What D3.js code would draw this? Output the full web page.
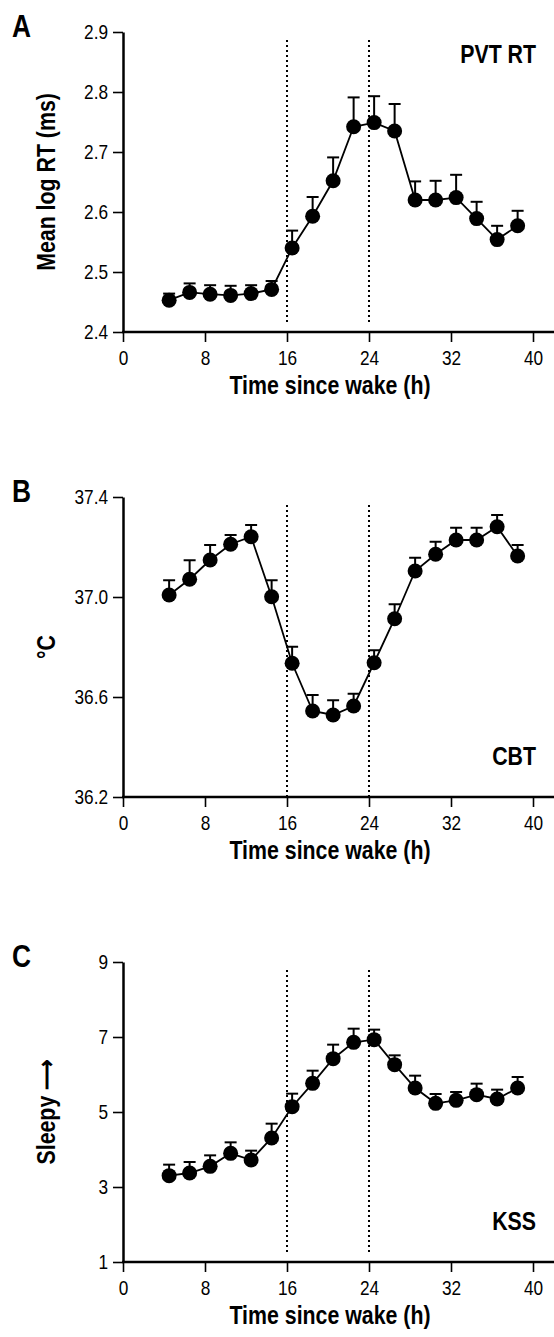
<!DOCTYPE html>
<html>
<head>
<meta charset="utf-8">
<script src="https://cdn.jsdelivr.net/npm/d3@7"></script>
<style>
  body { margin: 0; background: #fff; }
  svg { display: block; }
  text { font-family: "Liberation Sans", Arial, sans-serif; fill: #000; }
</style>
</head>
<body>
<div id="chart"></div>
<script>
// time points, hours since wake
var hours = [4.5, 6.5, 8.5, 10.5, 12.5, 14.5, 16.5, 18.5, 20.5, 22.5, 24.5, 26.5, 28.5, 30.5, 32.5, 34.5, 36.5, 38.5];

// A - PVT reaction time
var pvtMean = [2.453, 2.466, 2.463, 2.461, 2.464, 2.471, 2.540, 2.593, 2.652, 2.742, 2.749, 2.735, 2.620, 2.620, 2.624, 2.589, 2.554, 2.577];
var pvtSem  = [0.011, 0.015, 0.015, 0.016, 0.014, 0.014, 0.029, 0.032, 0.039, 0.049, 0.044, 0.045, 0.031, 0.032, 0.038, 0.028, 0.023, 0.025];

// B - core body temperature
var cbtMean = [37.008, 37.071, 37.148, 37.211, 37.241, 37.001, 36.735, 36.544, 36.528, 36.564, 36.737, 36.913, 37.104, 37.171, 37.228, 37.228, 37.281, 37.164];
var cbtSem  = [0.059, 0.076, 0.060, 0.037, 0.047, 0.066, 0.066, 0.064, 0.059, 0.049, 0.050, 0.058, 0.053, 0.050, 0.049, 0.049, 0.047, 0.044];

// C - Karolinska sleepiness scale
var kssMean = [3.302, 3.373, 3.551, 3.898, 3.720, 4.307, 5.142, 5.764, 6.422, 6.858, 6.929, 6.262, 5.640, 5.231, 5.311, 5.462, 5.347, 5.640];
var kssSem  = [0.294, 0.294, 0.293, 0.293, 0.249, 0.382, 0.347, 0.338, 0.374, 0.364, 0.267, 0.249, 0.329, 0.249, 0.222, 0.294, 0.249, 0.293];

// ticks
var xTicks = [0, 8, 16, 24, 32, 40];
var pvtTicks = [2.4, 2.5, 2.6, 2.7, 2.8, 2.9];
var cbtTicks = [36.2, 36.6, 37.0, 37.4];
var kssTicks = [1, 3, 5, 7, 9];
var markHours = [16, 24];

var svgWidth = 554;
var svgHeight = 1337;
var plotLeft = 123, plotRight = 533, plotH = 300;

var svg = d3.select("#chart")
  .append("svg")
  .attr("width", svgWidth)
  .attr("height", svgHeight);

var panels = [
  { letter: "A", top: 32, mean: pvtMean, sem: pvtSem, ticks: pvtTicks, fmt: ".1f",
    ylabel: "Mean log RT (ms)", tag: "PVT RT", tagY: 63, dotEnd: 9 },
  { letter: "B", top: 497, mean: cbtMean, sem: cbtSem, ticks: cbtTicks, fmt: ".1f",
    ylabel: "°C", tag: "CBT", tagY: 765, dotEnd: 0 },
  { letter: "C", top: 962, mean: kssMean, sem: kssSem, ticks: kssTicks, fmt: "d",
    ylabel: "Sleepy \u27F6", tag: "KSS", tagY: 1230, dotEnd: 8 }
];

// squeeze text horizontally, the figure uses a narrow face
function narrow(sel, f) {
  sel.each(function() {
    var w = this.getComputedTextLength();
    d3.select(this).attr("textLength", w * f).attr("lengthAdjust", "spacingAndGlyphs");
  });
}

panels.forEach(drawPanel);

function drawPanel(p) {
  var bottom = p.top + plotH;
  var x = d3.scaleLinear().domain([0, 40]).range([plotLeft, plotRight]);
  var y = d3.scaleLinear()
    .domain([p.ticks[0], p.ticks[p.ticks.length - 1]])
    .range([bottom, p.top]);

  var g = svg.append("g");

  // x axis
  var xAxis = g.append("g")
    .attr("transform", `translate(0, ${bottom})`)
    .call(d3.axisBottom(x).tickValues(xTicks).tickSize(10).tickPadding(8).tickSizeOuter(0));
  xAxis.select(".domain").remove();
  xAxis.selectAll("line").attr("stroke-width", 1.6);
  xAxis.selectAll("text").attr("font-size", 21).attr("font-family", null).call(narrow, 0.82);

  g.append("line")
    .attr("x1", plotLeft - 1).attr("x2", svgWidth)
    .attr("y1", bottom).attr("y2", bottom)
    .attr("stroke", "#000").attr("stroke-width", 2.5);

  // y axis
  var yAxis = g.append("g")
    .attr("transform", `translate(${plotLeft}, 0)`)
    .call(d3.axisLeft(y).tickValues(p.ticks).tickFormat(d3.format(p.fmt)).tickSize(10).tickPadding(5).tickSizeOuter(0));
  yAxis.select(".domain").attr("stroke-width", 2.5);
  yAxis.selectAll("line").attr("stroke-width", 1.6);
  yAxis.selectAll("text").attr("font-size", 21).attr("font-family", null).call(narrow, 0.82);

  // dotted reference lines
  g.selectAll(".mark")
    .data(markHours)
    .enter()
    .append("line")
    .attr("x1", d => x(d)).attr("x2", d => x(d))
    .attr("y1", p.top + 8).attr("y2", bottom - p.dotEnd)
    .attr("stroke", "#000")
    .attr("stroke-width", 2)
    .attr("stroke-dasharray", "2,3");

  // error bars (upper only)
  var err = g.selectAll(".err")
    .data(hours)
    .enter()
    .append("g");
  err.append("line")
    .attr("x1", d => x(d)).attr("x2", d => x(d))
    .attr("y1", (d, i) => y(p.mean[i]))
    .attr("y2", (d, i) => y(p.mean[i] + p.sem[i]))
    .attr("stroke", "#000").attr("stroke-width", 2);
  err.append("line")
    .attr("x1", d => x(d) - 6).attr("x2", d => x(d) + 6)
    .attr("y1", (d, i) => y(p.mean[i] + p.sem[i]))
    .attr("y2", (d, i) => y(p.mean[i] + p.sem[i]))
    .attr("stroke", "#000").attr("stroke-width", 2);

  // connecting line
  var line = d3.line()
    .x(d => x(d))
    .y((d, i) => y(p.mean[i]));
  g.append("path")
    .datum(hours)
    .attr("d", line)
    .attr("fill", "none")
    .attr("stroke", "#000")
    .attr("stroke-width", 1.8);

  // markers
  g.selectAll(".dot")
    .data(hours)
    .enter()
    .append("circle")
    .attr("cx", d => x(d))
    .attr("cy", (d, i) => y(p.mean[i]))
    .attr("r", 7.5)
    .attr("fill", "#000");

  // labels
  g.append("text")
    .attr("x", 12).attr("y", p.top + 5)
    .attr("font-size", 31).attr("font-weight", "bold")
    .text(p.letter)
    .call(narrow, 0.85);

  g.append("text")
    .attr("transform", `translate(46, ${p.top + plotH / 2}) rotate(-90)`)
    .attr("text-anchor", "middle")
    .attr("dy", "0.35em")
    .attr("font-size", 26).attr("font-weight", "bold")
    .text(p.ylabel)
    .call(narrow, 0.82);

  g.append("text")
    .attr("x", 330).attr("y", bottom + 62)
    .attr("text-anchor", "middle")
    .attr("font-size", 26).attr("font-weight", "bold")
    .text("Time since wake (h)")
    .call(narrow, 0.82);

  g.append("text")
    .attr("x", 536).attr("y", p.tagY)
    .attr("text-anchor", "end")
    .attr("font-size", 26).attr("font-weight", "bold")
    .text(p.tag)
    .call(narrow, 0.82);
}
</script>
</body>
</html>
